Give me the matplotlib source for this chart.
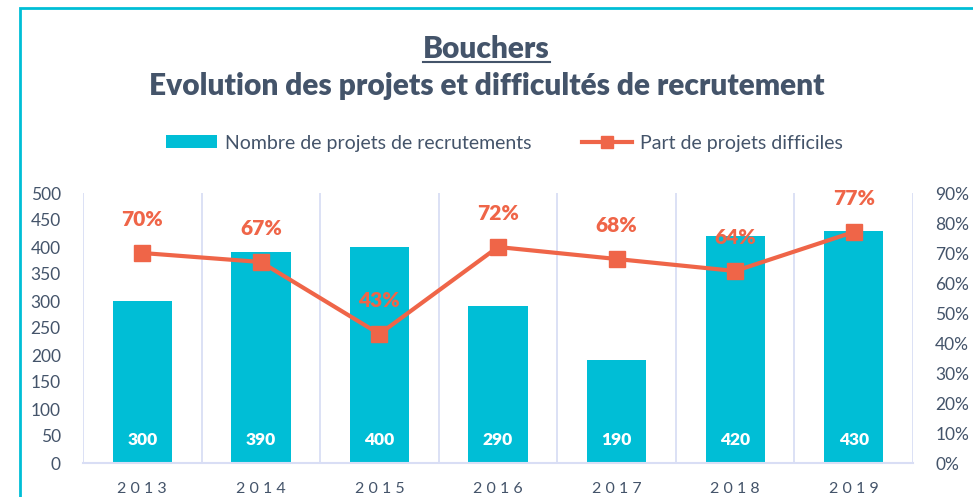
import numpy as np
import matplotlib.pyplot as plt
from matplotlib.patches import Rectangle, Patch
from matplotlib.lines import Line2D

# data
years = ["2013", "2014", "2015", "2016", "2017", "2018", "2019"]
projets = [300, 390, 400, 290, 190, 420, 430]
part_difficiles = [70, 67, 43, 72, 68, 64, 77]  # %

TEAL = "#00BED6"
ORANGE = "#EF6548"
SLATE = "#44546A"
GRID = "#D9DEF5"

plt.rcParams['font.family'] = ['Lato', 'DejaVu Sans']

fig = plt.figure(figsize=(9.73, 4.97), dpi=100)
W, H = 973, 497

# outer frame (teal border of the chart area)
fig.patches.append(Rectangle((20 / W, -0.1), 1.2, 1 - 8 / H + 0.1, transform=fig.transFigure,
                             fill=False, edgecolor=TEAL, linewidth=2, clip_on=False))

ax = fig.add_axes([83 / W, 34 / H, (913 - 83) / W, (463 - 193) / H])
ax2 = ax.twinx()

x = np.arange(len(years))
bars = ax.bar(x, projets, width=0.5, color=TEAL, zorder=2)
ax.set_xlim(-0.5, len(years) - 0.5)
ax.set_ylim(0, 500)
ax.set_yticks(np.arange(0, 501, 50))
ax.set_xticks(x)
ax.set_xticklabels([" ".join(y) for y in years])
ax.set_xticks(np.arange(-0.5, len(years), 1), minor=True)
ax.grid(which='minor', axis='x', color=GRID, linewidth=1.3, zorder=0)
ax.tick_params(axis='x', which='both', length=0, pad=14, labelsize=11.5, colors=SLATE)
ax.tick_params(axis='y', length=0, pad=16, labelsize=12.5, colors=SLATE)
for s in ['left', 'right', 'top']:
    ax.spines[s].set_visible(False)
ax.spines['bottom'].set_color(GRID)
ax.spines['bottom'].set_linewidth(1.5)

for xi, v in zip(x, projets):
    ax.text(xi, 42, str(v), ha='center', va='center', color='white', fontsize=12.5, fontweight='heavy', zorder=3)

ax2.plot(x, part_difficiles, color=ORANGE, linewidth=3, marker='s', markersize=11, zorder=4)
ax2.set_ylim(0, 90)
ax2.set_yticks(np.arange(0, 91, 10))
ax2.set_yticklabels([f"{t}%" for t in range(0, 91, 10)])
ax2.tick_params(axis='y', length=0, pad=16, labelsize=12.5, colors=SLATE)
for s in ['left', 'right', 'top', 'bottom']:
    ax2.spines[s].set_visible(False)
for xi, v in zip(x, part_difficiles):
    ax2.annotate(f"{v}%", (xi, v), xytext=(0, 24), textcoords='offset points', ha='center', va='center',
                 color=ORANGE, fontsize=15, fontweight='heavy')

# titles
t1 = fig.text(0.5, 1 - 49 / H, "Bouchers", ha='center', va='center', fontsize=21.5, fontweight='heavy', color=SLATE)
fig.text(0.5, 1 - 86 / H, "Evolution des projets et difficultés de recrutement", ha='center', va='center',
         fontsize=21.5, fontweight='heavy', color=SLATE)

handles = [Patch(facecolor=TEAL, edgecolor='none'),
           Line2D([], [], color=ORANGE, linewidth=3, marker='s', markersize=8)]
fig.legend(handles, ["Nombre de projets de recrutements", "Part de projets difficiles"], loc='center',
           bbox_to_anchor=(0.5185, 1 - 143 / H), ncol=2, frameon=False, fontsize=14, labelcolor=SLATE,
           handlelength=2.6, handleheight=0.6, columnspacing=2.6, handletextpad=0.4)

# underline under "Bouchers"
fig.canvas.draw()
bb = t1.get_window_extent()
fig.lines.append(Line2D([bb.x0 / W, bb.x1 / W], [(bb.y0 + 1) / H, (bb.y0 + 1) / H], transform=fig.transFigure,
                        color=SLATE, linewidth=1.5))

fig.savefig("out.png", dpi=100)
